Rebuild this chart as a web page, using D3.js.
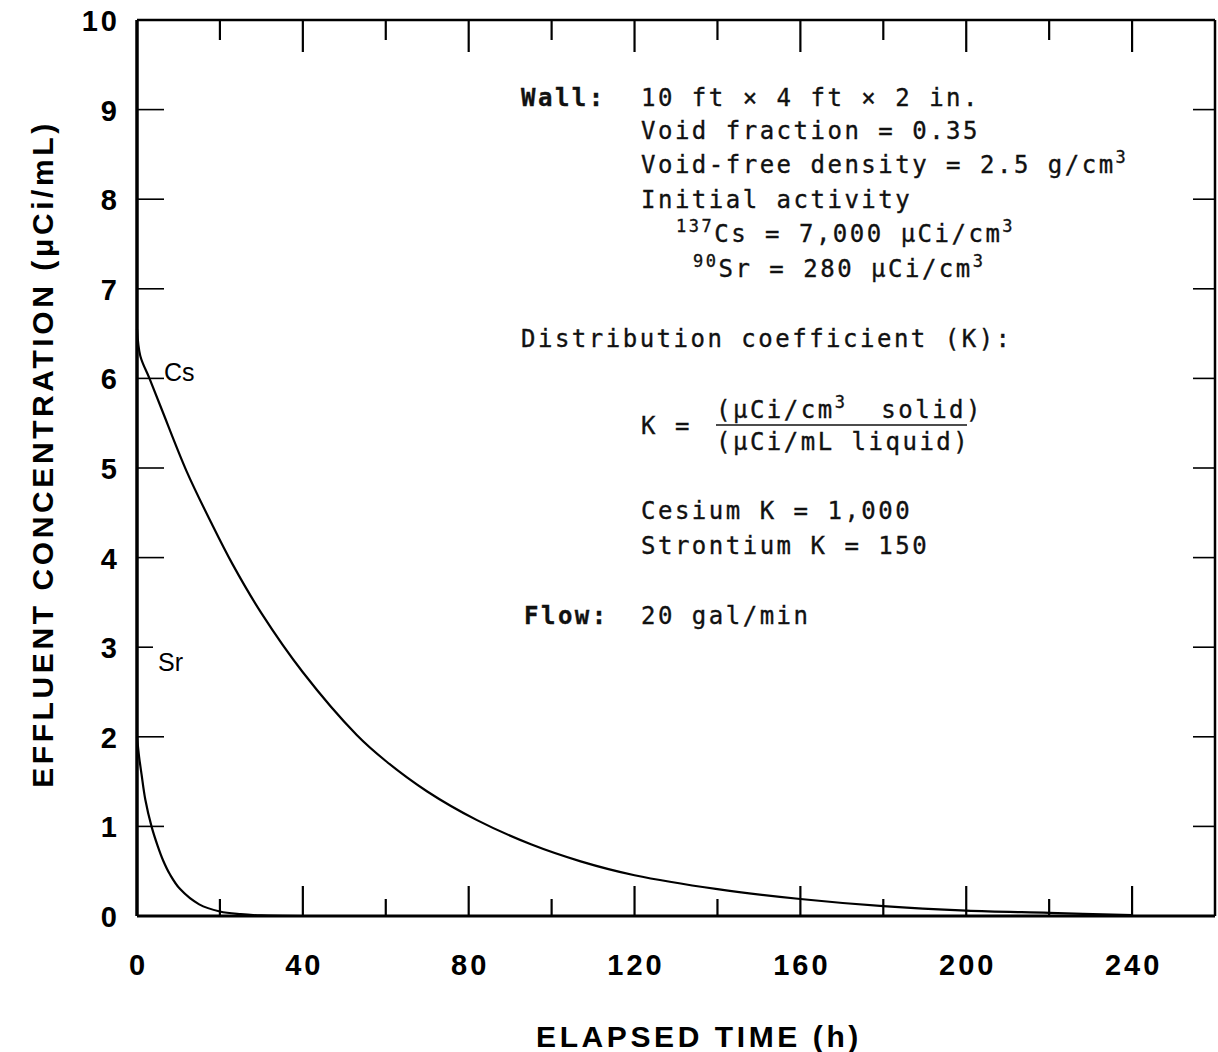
<!DOCTYPE html>
<html>
<head>
<meta charset="utf-8">
<script src="https://cdn.jsdelivr.net/npm/d3@7"></script>
<style>
  body { margin: 0; background: #fff; }
  .tick-label { font-family: "Liberation Sans", Arial, sans-serif; font-weight: bold; font-size: 29px; letter-spacing: 3px; }
  .axis-title { font-family: "Liberation Sans", Arial, sans-serif; font-weight: bold; font-size: 30px; letter-spacing: 3.6px; }
  .note { font-family: "DejaVu Sans Mono", "Liberation Mono", monospace; font-size: 24px; letter-spacing: 2.5px; fill: #111; stroke: #111; stroke-width: 0.35px; }
  .curve-label { font-family: "Liberation Sans", Arial, sans-serif; font-size: 25px; }
</style>
</head>
<body>
<div id="chart"></div>
<script>
// values
let cesiumHours = [0, 0.8, 3, 6, 12, 18, 23, 30, 40, 53, 60, 70, 82, 95, 107, 120, 140, 160, 180, 200, 220, 240];
let cesium = [6.55, 6.25, 6.0, 5.65, 4.96, 4.38, 3.93, 3.38, 2.72, 2.02, 1.73, 1.39, 1.07, 0.8, 0.61, 0.455, 0.3, 0.19, 0.11, 0.06, 0.035, 0.01];
let strontiumHours = [0, 0.5, 1.1, 2, 3.5, 5, 6.3, 8, 10.4, 15, 20, 25, 30, 40];
let strontium = [2.0, 1.78, 1.58, 1.3, 1.0, 0.78, 0.62, 0.46, 0.3, 0.13, 0.05, 0.02, 0.006, 0];
let xTickValues = [0, 40, 80, 120, 160, 200, 240];
let yTickValues = [0, 1, 2, 3, 4, 5, 6, 7, 8, 9, 10];
let curveLabels = ["Cs", "Sr"];

let margin = { top: 20, right: 3, bottom: 136, left: 137 };
let width = 1218 - margin.left - margin.right;
let height = 1052 - margin.top - margin.bottom;

let svg = d3.select("#chart").append("svg")
    .attr("width", 1218)
    .attr("height", 1052)
    .append("g")
    .attr("transform", "translate(" + margin.left + "," + margin.top + ")");

let x = d3.scaleLinear().domain([0, 260]).range([0, width]);
let y = d3.scaleLinear().domain([0, 10]).range([height, 0]);

// frame
svg.append("line").attr("x1", 0).attr("x2", width).attr("y1", 0).attr("y2", 0)
    .attr("stroke", "#000").attr("stroke-width", 2.5);
svg.append("line").attr("x1", width).attr("x2", width).attr("y1", 0).attr("y2", height)
    .attr("stroke", "#000").attr("stroke-width", 2.5);
svg.append("line").attr("x1", 0).attr("x2", width).attr("y1", height).attr("y2", height)
    .attr("stroke", "#000").attr("stroke-width", 3);
svg.append("line").attr("x1", 0).attr("x2", 0).attr("y1", 0).attr("y2", height)
    .attr("stroke", "#000").attr("stroke-width", 3.5);

// x ticks every 20 h, longer at multiples of 40, on top and bottom
let xTicks = d3.range(20, 260, 20);
svg.selectAll(".xtb").data(xTicks).join("line")
    .attr("x1", d => x(d)).attr("x2", d => x(d))
    .attr("y1", height).attr("y2", d => height - (d % 40 === 0 ? 30 : 17))
    .attr("stroke", "#000").attr("stroke-width", 2.2);
svg.selectAll(".xtt").data(xTicks).join("line")
    .attr("x1", d => x(d)).attr("x2", d => x(d))
    .attr("y1", 0).attr("y2", d => (d % 40 === 0 ? 32 : 20))
    .attr("stroke", "#000").attr("stroke-width", 2.2);

// y ticks on both sides
let yTicks = yTickValues.filter(d => d > 0 && d < 10);
svg.selectAll(".ytl").data(yTicks).join("line")
    .attr("x1", 0).attr("x2", d => d === 3 ? 16 : 27)
    .attr("y1", d => y(d)).attr("y2", d => y(d))
    .attr("stroke", "#000").attr("stroke-width", 1.6);
svg.selectAll(".ytr").data(yTicks).join("line")
    .attr("x1", width).attr("x2", width - 22)
    .attr("y1", d => y(d)).attr("y2", d => y(d))
    .attr("stroke", "#000").attr("stroke-width", 1.6);

// tick labels
svg.selectAll(".xl").data(xTickValues).join("text")
    .attr("class", "tick-label")
    .attr("x", d => x(d) + 1.5).attr("y", height + 59)
    .attr("text-anchor", "middle")
    .text(d => d);
svg.selectAll(".yl").data(yTickValues).join("text")
    .attr("class", "tick-label")
    .attr("x", -17).attr("y", d => y(d) + 11)
    .attr("text-anchor", "end")
    .text(d => d);

// axis titles
svg.append("text").attr("class", "axis-title")
    .attr("x", 562).attr("y", height + 131)
    .attr("text-anchor", "middle")
    .text("ELAPSED TIME (h)");
svg.append("text").attr("class", "axis-title")
    .attr("transform", "translate(-84," + (y(5) - 14) + ") rotate(-90)")
    .attr("text-anchor", "middle")
    .attr("letter-spacing", "4.2px")
    .text("EFFLUENT CONCENTRATION (\u03BCCi/mL)");

// curves
let line = d3.line()
    .x(d => x(d[0]))
    .y(d => y(d[1]))
    .curve(d3.curveCatmullRom.alpha(0.5));

let series = [d3.zip(cesiumHours, cesium), d3.zip(strontiumHours, strontium)];
svg.selectAll(".curve").data(series).join("path")
    .attr("d", line)
    .attr("fill", "none")
    .attr("stroke", "#000")
    .attr("stroke-width", 2.2);

svg.selectAll(".clabel").data(curveLabels).join("text")
    .attr("class", "curve-label")
    .attr("x", (d, i) => i === 0 ? 27 : 21)
    .attr("y", (d, i) => i === 0 ? y(6) + 3 : y(3) + 24)
    .text(d => d);

// annotation block
let notes = svg.append("g").attr("class", "note");
let col1 = 384, col2 = 504;
function note(xp, yp, parts, bold) {
    let t = notes.append("text").attr("x", xp).attr("y", yp).attr("xml:space", "preserve");
    if (bold) t.attr("font-weight", "bold");
    parts.forEach(p => {
        let s = t.append("tspan").text(p.t);
        if (p.sup) s.attr("font-size", "17px").attr("dy", -10);
        if (p.down) s.attr("dy", 10);
        if (p.bold) s.attr("font-weight", "bold");
    });
    return t;
}
note(col1, 86, [{t: "Wall:", bold: true}]);
note(col2, 86, [{t: "10 ft \u00D7 4 ft \u00D7 2 in."}]);
note(col2, 119, [{t: "Void fraction = 0.35"}]);
note(col2, 153, [{t: "Void-free density = 2.5 g/cm"}, {t: "3", sup: true}]);
note(col2, 188, [{t: "Initial activity"}]);
note(col2 + 35, 222, [{t: "137", sup: true}, {t: "Cs = 7,000 \u03BCCi/cm", down: true}, {t: "3", sup: true}]);
note(col2 + 52, 257, [{t: "90", sup: true}, {t: "Sr = 280 \u03BCCi/cm", down: true}, {t: "3", sup: true}]);
note(col1, 327, [{t: "Distribution coefficient (K):"}]);
note(col2, 414, [{t: "K ="}]);
note(col2 + 75, 398, [{t: "(\u03BCCi/cm"}, {t: "3", sup: true}, {t: "  solid)", down: true}]);
note(col2 + 75, 430, [{t: "(\u03BCCi/mL liquid)"}]);
notes.append("line")
    .attr("x1", col2 + 75).attr("x2", col2 + 326)
    .attr("y1", 405).attr("y2", 405)
    .attr("stroke", "#111").attr("stroke-width", 1.6);
note(col2, 499, [{t: "Cesium K = 1,000"}]);
note(col2, 534, [{t: "Strontium K = 150"}]);
note(col1 + 3, 604, [{t: "Flow:", bold: true}]);
note(col2, 604, [{t: "20 gal/min"}]);
</script>
</body>
</html>
